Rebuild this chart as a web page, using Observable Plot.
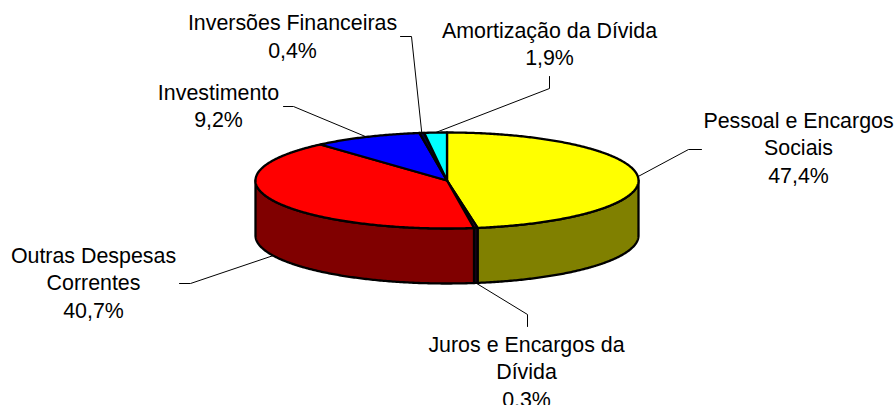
<!DOCTYPE html>
<html><head><meta charset="utf-8">
<style>html,body{margin:0;padding:0;background:#fff}svg{display:block}</style>
<script src="https://cdn.jsdelivr.net/npm/d3@7"></script>
<script src="https://cdn.jsdelivr.net/npm/@observablehq/plot@0.6"></script>
</head><body><script>
const names = ["Pessoal e Encargos\nSociais","Juros e Encargos da\nDívida","Outras Despesas\nCorrentes","Investimento","Inversões Financeiras","Amortização da Dívida"];
const values = [47.4,0.3,40.7,9.2,0.4,1.9];
const topColors = ["#ffff00","#400040","#ff0000","#0000ff","#000040","#00ffff"];
const sideColors = ["#808000","#200020","#800000","#000080","#000020","#008080"];
// layout of the drawing (pixel-like chart units)
const cx=446.5, cy=180, rx=191.5, ry=48, depth=55;
const labelX=[798,526,93,218,292,549], labelY=[146,370,281,104,34.5,42];
const elbowX=[[688,701],[527,527],[190,179],[293,283],[411,400],[549,549]];
const elbowY=[[149,149],[314,326],[283,283],[106,106],[36,36],[88,76]];

const total=d3.sum(values);
const cum=d3.cumsum(values);
const pos=(a,dz=0)=>({x:cx+rx*Math.sin(a),y:cy-ry*Math.cos(a)+dz});
const arc=(a0,a1,dz=0)=>{const n=Math.max(2,Math.ceil(Math.abs(a1-a0)/0.01));return d3.range(n+1).map(i=>pos(a0+(a1-a0)*i/n,dz));};
const slices=values.map((v,i)=>({a0:(cum[i]-v)/total*2*Math.PI,a1:cum[i]/total*2*Math.PI,i}));
const marks=[];
const poly=(pts,fill)=>marks.push(Plot.line([...pts,pts[0]],{x:"x",y:"y",fill,stroke:"#000",strokeWidth:2.3,strokeLinejoin:"round"}));
// leaders
slices.forEach(s=>{
  const m=(s.a0+s.a1)/2;
  const front=Math.cos(m)<0;
  const p=pos(m,front?depth:0);
  const pts=[p,{x:elbowX[s.i][0],y:elbowY[s.i][0]},{x:elbowX[s.i][1],y:elbowY[s.i][1]}];
  marks.push(Plot.line(pts,{x:"x",y:"y",stroke:"#000",strokeWidth:1}));
});
// walls
slices.forEach(s=>{
  const a0=Math.max(s.a0,Math.PI/2),a1=Math.min(s.a1,1.5*Math.PI);
  if(a1>a0) poly([...arc(a0,a1),...arc(a1,a0,depth)],sideColors[s.i]);
});
// tops
slices.forEach(s=>poly([{x:cx,y:cy},...arc(s.a0,s.a1)],topColors[s.i]));
// labels
const labels=names.map((n,i)=>({t:n+"\n"+values[i].toFixed(1).replace(".",",")+"%",x:labelX[i],y:labelY[i]}));
marks.push(Plot.text(labels,{x:"x",y:"y",text:"t",fontSize:21.4,lineHeight:1.29,fill:"#000",textAnchor:"middle",stroke:"none"}));
const chart=Plot.plot({width:895,height:405,margin:0,
  x:{domain:[0,895],range:[0,895],axis:null},
  y:{domain:[0,405],range:[0,405],axis:null},
  style:{fontFamily:"'Liberation Sans',Arial,sans-serif",background:"#fff",overflow:"hidden"},
  marks});
document.body.appendChild(chart);
</script></body></html>
